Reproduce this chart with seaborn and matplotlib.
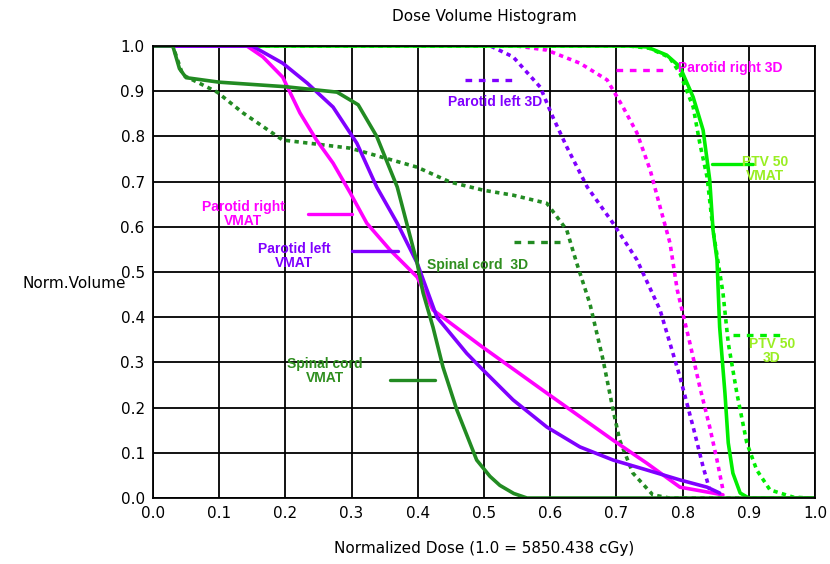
import numpy as np
import pandas as pd
import matplotlib
matplotlib.use("Agg")
import matplotlib.pyplot as plt
import seaborn as sns

sns.set_theme(style="white")
plt.rcParams['font.family'] = ['Liberation Sans', 'DejaVu Sans']
plt.rcParams['text.color'] = 'black'
plt.rcParams['axes.labelcolor'] = 'black'
plt.rcParams['xtick.color'] = 'black'
plt.rcParams['ytick.color'] = 'black'

# -----------------------------
# DVH curves (dose fraction, volume fraction)
# -----------------------------
cord_vmat_x = [0.0, 0.03, 0.04, 0.05, 0.10, 0.20, 0.278, 0.31, 0.338, 0.369, 0.399, 0.408,
               0.423, 0.438, 0.459, 0.489, 0.509, 0.524, 0.545, 0.565, 1.0]
cord_vmat_y = [1.0, 1.0, 0.95, 0.93, 0.92, 0.91, 0.898, 0.87, 0.80, 0.688, 0.52, 0.454,
               0.378, 0.29, 0.195, 0.084, 0.048, 0.028, 0.01, 0.0, 0.0]

cord_3d_x = [0.0, 0.03, 0.045, 0.097, 0.136, 0.196, 0.298, 0.399, 0.449, 0.499, 0.544, 0.595,
             0.625, 0.64, 0.66, 0.68, 0.695, 0.705, 0.725, 0.755, 0.78, 1.0]
cord_3d_y = [1.0, 1.0, 0.936, 0.898, 0.852, 0.792, 0.774, 0.732, 0.699, 0.681, 0.67, 0.652,
             0.593, 0.52, 0.43, 0.305, 0.195, 0.128, 0.055, 0.007, 0.0, 0.0]

par_r_vmat_x = [0.0, 0.142, 0.166, 0.196, 0.222, 0.247, 0.272, 0.298, 0.323, 0.358, 0.399,
                0.423, 0.494, 0.595, 0.695, 0.746, 0.796, 0.861]
par_r_vmat_y = [1.0, 1.0, 0.976, 0.931, 0.852, 0.792, 0.741, 0.675, 0.608, 0.549, 0.489,
                0.416, 0.338, 0.232, 0.128, 0.077, 0.024, 0.007]

par_l_vmat_x = [0.0, 0.15, 0.196, 0.233, 0.272, 0.308, 0.338, 0.369, 0.399, 0.429, 0.474,
                0.494, 0.544, 0.595, 0.645, 0.695, 0.746, 0.796, 0.837, 0.856]
par_l_vmat_y = [1.0, 1.0, 0.962, 0.918, 0.865, 0.785, 0.688, 0.608, 0.52, 0.40, 0.32,
                0.29, 0.217, 0.157, 0.113, 0.084, 0.062, 0.04, 0.024, 0.011]

par_l_3d_x = [0.0, 0.51, 0.544, 0.585, 0.604, 0.625, 0.656, 0.695, 0.731, 0.766, 0.796,
              0.816, 0.831, 0.841]
par_l_3d_y = [1.0, 1.0, 0.976, 0.909, 0.843, 0.777, 0.688, 0.608, 0.527, 0.416, 0.268,
              0.157, 0.069, 0.018]

par_r_3d_x = [0.0, 0.55, 0.595, 0.645, 0.686, 0.71, 0.731, 0.751, 0.766, 0.781, 0.792,
              0.811, 0.826, 0.841, 0.852, 0.861]
par_r_3d_y = [1.0, 1.0, 0.991, 0.962, 0.925, 0.865, 0.808, 0.726, 0.644, 0.564, 0.46,
              0.343, 0.246, 0.157, 0.084, 0.018]

ptv_vmat_x = [0.0, 0.72, 0.746, 0.776, 0.796, 0.816, 0.831, 0.841, 0.846, 0.852, 0.856,
              0.864, 0.869, 0.876, 0.887, 0.90, 1.0]
ptv_vmat_y = [1.0, 1.0, 0.998, 0.98, 0.954, 0.887, 0.814, 0.704, 0.593, 0.527, 0.378,
              0.232, 0.122, 0.055, 0.011, 0.0, 0.0]

ptv_3d_x = [0.0, 0.72, 0.75, 0.78, 0.796, 0.816, 0.826, 0.837, 0.846, 0.861, 0.869, 0.882,
            0.897, 0.912, 0.932, 0.967, 0.99, 1.0]
ptv_3d_y = [1.0, 1.0, 0.995, 0.975, 0.94, 0.865, 0.785, 0.71, 0.593, 0.454, 0.343, 0.232,
            0.122, 0.062, 0.018, 0.002, 0.0, 0.0]

MAGENTA = "#ff00ff"
PURPLE = "#8000ff"
DKGREEN = "#228b22"
GREEN = "#00ee00"
PTV_TXT = "#99ee22"
CORD_TXT = "#2f8f1f"
DOT = (0, (1.2, 1.2))

fig = plt.figure(figsize=(8.30, 5.64), dpi=100)
ax = fig.add_axes([0.1843, 0.117, 0.7976, 0.8014])

# draw order: 3D dotted first, VMAT solids on top
curves = [
    (par_r_3d_x, par_r_3d_y, MAGENTA, DOT),
    (par_l_3d_x, par_l_3d_y, PURPLE, DOT),
    (ptv_3d_x, ptv_3d_y, GREEN, DOT),
    (cord_3d_x, cord_3d_y, DKGREEN, DOT),
    (ptv_vmat_x, ptv_vmat_y, GREEN, '-'),
    (par_r_vmat_x, par_r_vmat_y, MAGENTA, '-'),
    (par_l_vmat_x, par_l_vmat_y, PURPLE, '-'),
    (cord_vmat_x, cord_vmat_y, DKGREEN, '-'),
]
for xs, ys, col, ls in curves:
    d = pd.DataFrame({'x': xs, 'y': ys})
    sns.lineplot(data=d, x='x', y='y', ax=ax, color=col, linestyle=ls, lw=2.6,
                 sort=False, estimator=None)

# -----------------------------
# Labels with short line keys
# -----------------------------
def key(x0, x1, y, col, ls):
    ax.plot([x0, x1], [y, y], color=col, linestyle=ls, lw=2.4)

key(0.700, 0.775, 0.946, MAGENTA, (0, (2, 2)))
ax.text(0.793, 0.952, "Parotid right 3D", color=MAGENTA, fontsize=10, fontweight='bold',
        ha='left', va='center')

key(0.471, 0.547, 0.925, PURPLE, (0, (2, 2)))
ax.text(0.517, 0.877, "Parotid left 3D", color=PURPLE, fontsize=10, fontweight='bold',
        ha='center', va='center')

key(0.845, 0.907, 0.74, GREEN, '-')
ax.text(0.925, 0.727, "PTV 50\nVMAT", color=PTV_TXT, fontsize=10, fontweight='bold',
        ha='center', va='center', linespacing=1.0)

key(0.234, 0.301, 0.628, MAGENTA, '-')
ax.text(0.136, 0.628, "Parotid right\nVMAT", color=MAGENTA, fontsize=10, fontweight='bold',
        ha='center', va='center', linespacing=1.0)

key(0.301, 0.370, 0.546, PURPLE, '-')
ax.text(0.213, 0.535, "Parotid left\nVMAT", color=PURPLE, fontsize=10, fontweight='bold',
        ha='center', va='center', linespacing=1.0)

key(0.545, 0.615, 0.566, DKGREEN, (0, (2, 2)))
ax.text(0.491, 0.515, "Spinal cord  3D", color=CORD_TXT, fontsize=10, fontweight='bold',
        ha='center', va='center')

key(0.876, 0.947, 0.36, GREEN, (0, (2, 2)))
ax.text(0.935, 0.325, "PTV 50\n3D", color=PTV_TXT, fontsize=10, fontweight='bold',
        ha='center', va='center', linespacing=1.0)

key(0.358, 0.426, 0.26, DKGREEN, '-')
ax.text(0.260, 0.28, "Spinal cord\nVMAT", color=CORD_TXT, fontsize=10, fontweight='bold',
        ha='center', va='center', linespacing=1.0)

# -----------------------------
# Axes styling
# -----------------------------
ax.set_xlim(0, 1.0)
ax.set_ylim(0, 1.0)
ticks = np.arange(0, 1.01, 0.1)
ax.set_xticks(ticks)
ax.set_yticks(ticks)
ax.set_xticklabels([f"{t:.1f}" for t in ticks], fontsize=11, family='DejaVu Sans')
ax.set_yticklabels([f"{t:.1f}" for t in ticks], fontsize=11, family='DejaVu Sans')
ax.tick_params(axis='both', direction='out', length=4, width=1, color='black', pad=2)
ax.grid(True, color='black', lw=1.3)
ax.set_axisbelow(True)
for s in ax.spines.values():
    s.set_color('black')
    s.set_linewidth(1.3)

ax.set_xlabel("Normalized Dose (1.0 = 5850.438 cGy)", fontsize=11, family='DejaVu Sans',
              labelpad=14)
ax.set_ylabel("Norm.Volume", fontsize=11, family='DejaVu Sans', rotation=0,
              ha='right', va='center', labelpad=12)
ax.yaxis.set_label_coords(-0.04, 0.475)
ax.set_title("Dose Volume Histogram", fontsize=11, family='DejaVu Sans', pad=18)

fig.savefig("out.png", dpi=100)
